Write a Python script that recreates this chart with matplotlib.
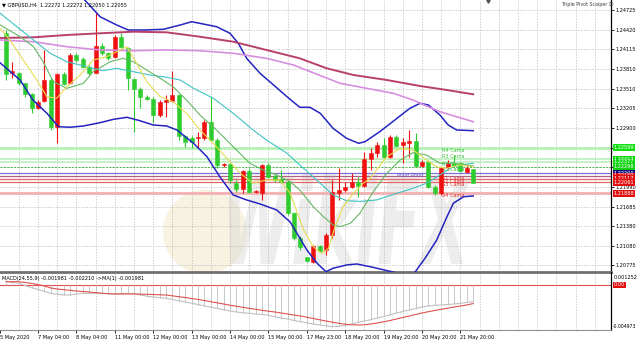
import matplotlib
matplotlib.use("Agg")
import matplotlib.pyplot as plt
import numpy as np
from matplotlib.patches import PathPatch, Circle
from matplotlib.textpath import TextPath
from matplotlib.font_manager import FontProperties
from matplotlib.transforms import Affine2D, IdentityTransform, blended_transform_factory

# GBPUSD H4 candles
opens = [1.24365, 1.23746, 1.23756, 1.23592, 1.23422, 1.23205, 1.23318, 1.23643, 1.22921, 1.23736,
         1.23592, 1.24029, 1.23963, 1.23848, 1.23756, 1.24168, 1.24065, 1.23994, 1.24312, 1.24133,
         1.23658, 1.23499, 1.23385, 1.23349, 1.23102, 1.23307, 1.23323, 1.23411, 1.22777, 1.22746,
         1.22742, 1.22742, 1.22998, 1.22715, 1.22329, 1.22344, 1.22055, 1.21953, 1.22241, 1.21916,
         1.21900, 1.22329, 1.22159, 1.22108, 1.22071, 1.21582, 1.21196, 1.20907, 1.20834, 1.21076,
         1.21015, 1.21247, 1.21900, 1.21942, 1.21984, 1.22071, 1.22009, 1.22417, 1.22519, 1.22638,
         1.22457, 1.22766, 1.22638, 1.22673, 1.22704, 1.22318, 1.22380, 1.21993, 1.21891, 1.22293,
         1.22360, 1.22364, 1.22225, 1.22272]
highs = [1.24416, 1.23926, 1.23771, 1.23601, 1.23437, 1.23334, 1.24107, 1.23669, 1.23746, 1.23771,
         1.24056, 1.24056, 1.24003, 1.23875, 1.24683, 1.24210, 1.24080, 1.24339, 1.24365, 1.24158,
         1.23669, 1.23530, 1.23411, 1.23385, 1.23334, 1.23411, 1.23787, 1.23426, 1.22793, 1.22777,
         1.22844, 1.23024, 1.23385, 1.22742, 1.22364, 1.22355, 1.22097, 1.22251, 1.22278, 1.21942,
         1.22344, 1.22355, 1.22200, 1.22251, 1.22097, 1.21602, 1.21231, 1.20907, 1.21092, 1.21092,
         1.21273, 1.22097, 1.22278, 1.22071, 1.22210, 1.22148, 1.22534, 1.22587, 1.22689, 1.22742,
         1.22793, 1.22793, 1.22742, 1.22870, 1.22819, 1.22406, 1.22406, 1.22020, 1.22302, 1.22406,
         1.22483, 1.22380, 1.22329, 1.22272]
lows = [1.23643, 1.23669, 1.23566, 1.23385, 1.23128, 1.23190, 1.23307, 1.22870, 1.22664, 1.23566,
        1.23581, 1.23926, 1.23824, 1.23720, 1.23746, 1.24029, 1.23952, 1.23978, 1.24133, 1.23488,
        1.22844, 1.23205, 1.23334, 1.22973, 1.23075, 1.23075, 1.23307, 1.22715, 1.22612, 1.22592,
        1.22587, 1.22715, 1.22689, 1.22278, 1.22302, 1.22046, 1.21916, 1.21891, 1.21891, 1.21891,
        1.21788, 1.22123, 1.22071, 1.22046, 1.21556, 1.21169, 1.21015, 1.20829, 1.20809, 1.20984,
        1.20937, 1.21196, 1.21788, 1.21916, 1.21969, 1.21839, 1.21993, 1.22251, 1.22457, 1.22432,
        1.22432, 1.22612, 1.22355, 1.22457, 1.22302, 1.22302, 1.21969, 1.21865, 1.21865, 1.22251,
        1.22278, 1.22225, 1.22200, 1.22050]
closes = [1.23736, 1.23777, 1.23592, 1.23422, 1.23205, 1.23307, 1.23643, 1.22921, 1.23736, 1.23581,
          1.24029, 1.23952, 1.23848, 1.23746, 1.24168, 1.24065, 1.23978, 1.24312, 1.24148, 1.23669,
          1.23499, 1.23385, 1.23349, 1.23102, 1.23307, 1.23334, 1.23411, 1.22777, 1.22689, 1.22689,
          1.22766, 1.22998, 1.22715, 1.22329, 1.22344, 1.22097, 1.21953, 1.22241, 1.21916, 1.21931,
          1.22329, 1.22148, 1.22097, 1.22071, 1.21582, 1.21196, 1.21056, 1.20849, 1.21076, 1.21004,
          1.21247, 1.21916, 1.21942, 1.21984, 1.22071, 1.22009, 1.22417, 1.22519, 1.22638, 1.22457,
          1.22766, 1.22627, 1.22680, 1.22704, 1.22318, 1.22380, 1.21993, 1.21891, 1.22278, 1.22364,
          1.22313, 1.22241, 1.22278, 1.22055]

# indicator lines (bar position, price)
yellow_x = [-0.9, 0.6, 2.7, 4.8, 6.4, 7.9, 9.5, 11.6, 13.6, 15.7, 17.3, 18.9, 20.4, 22.0, 24.1, 26.1,
            28.2, 30.3, 32.4, 34.5, 36.6, 38.6, 40.7, 42.8, 44.4, 46.5, 48.0, 49.3, 50.4, 51.4, 52.7,
            54.3, 55.8, 56.9, 59.5, 61.6, 63.6, 65.7, 67.3, 68.9, 70.9, 73.0]
yellow_y = [1.24442, 1.24261, 1.23952, 1.23643, 1.23385, 1.23360, 1.23539, 1.23720, 1.23952, 1.24003,
            1.24080, 1.24158, 1.23901, 1.23617, 1.23385, 1.23307, 1.23128, 1.22870, 1.22664, 1.22432,
            1.22200, 1.22046, 1.22097, 1.22097, 1.21891, 1.21324, 1.21066, 1.20963, 1.21041, 1.21375,
            1.21684, 1.21891, 1.22046, 1.22123, 1.22457, 1.22587, 1.22561, 1.22406, 1.22302, 1.22278,
            1.22329, 1.22302]
green_x = [-0.9, 2.2, 4.3, 5.8, 7.4, 9.5, 12.1, 13.6, 16.3, 18.3, 19.9, 22.0, 24.1, 26.1, 28.2, 30.3,
           32.9, 35.5, 38.1, 40.2, 42.3, 44.4, 45.9, 48.0, 49.6, 51.1, 52.2, 53.8, 55.3, 57.4, 59.5,
           61.6, 63.6, 65.7, 67.8, 69.9, 72.0, 73.0]
green_y = [1.24493, 1.24312, 1.24158, 1.23926, 1.23617, 1.23514, 1.23592, 1.23771, 1.23926, 1.23978,
           1.23926, 1.23797, 1.23669, 1.23539, 1.23334, 1.23102, 1.22870, 1.22612, 1.22355, 1.22251,
           1.22174, 1.22071, 1.21942, 1.21684, 1.21529, 1.21401, 1.21375, 1.21427, 1.21582, 1.21916,
           1.22200, 1.22406, 1.22519, 1.22483, 1.22355, 1.22355, 1.22329, 1.22313]
teal_x = [-0.9, 1.7, 4.3, 6.9, 9.5, 12.6, 15.2, 17.3, 19.9, 22.5, 25.1, 27.2, 29.3, 32.4, 35.5, 38.6,
          40.7, 43.9, 45.9, 49.1, 51.1, 53.2, 55.3, 57.9, 61.1, 63.6, 65.7, 67.8, 69.4, 70.9, 73.0]
teal_y = [1.24674, 1.24467, 1.24261, 1.24056, 1.23926, 1.23848, 1.23787, 1.23824, 1.23771, 1.23720,
          1.23685, 1.23643, 1.23515, 1.23360, 1.23128, 1.22870, 1.22715, 1.22510, 1.22329, 1.22046,
          1.21865, 1.21777, 1.21765, 1.21788, 1.21891, 1.21968, 1.22046, 1.22174, 1.22278, 1.22329,
          1.22355]
bb_up_x = [10.0, 12.3, 14.7, 17.3, 19.1, 21.5, 24.6, 27.2, 29.0, 30.8, 32.9, 35.0, 36.3, 37.6, 39.7,
           41.8, 43.9, 45.9, 47.5, 49.1, 51.1, 53.2, 55.1, 56.1, 58.4, 61.1, 63.1, 64.7, 66.0, 67.8,
           69.1, 70.4, 73.0]
bb_up_y = [1.25034, 1.24880, 1.24621, 1.24493, 1.24416, 1.24416, 1.24427, 1.24493, 1.24544, 1.24509,
           1.24467, 1.24365, 1.24210, 1.23978, 1.23746, 1.23566, 1.23385, 1.23221, 1.23221, 1.23128,
           1.22896, 1.22742, 1.22664, 1.22689, 1.22844, 1.23051, 1.23205, 1.23283, 1.23256, 1.23102,
           1.22947, 1.22870, 1.22859]
bb_low_x = [-0.9, 2.2, 4.2, 6.4, 7.3, 8.2, 10.0, 12.1, 14.7, 16.8, 18.9, 20.9, 23.0, 25.1, 26.7, 28.0,
            29.3, 31.4, 33.4, 35.5, 37.6, 39.7, 42.3, 44.4, 45.9, 47.0, 48.6, 50.0, 51.1, 53.2, 54.8,
            56.9, 61.1, 62.5, 63.9, 65.5, 67.3, 68.9, 69.9, 71.5, 73.0]
bb_low_y = [1.23906, 1.23643, 1.23334, 1.23128, 1.23024, 1.22921, 1.22912, 1.22932, 1.22983, 1.23035,
            1.23066, 1.23014, 1.22947, 1.22932, 1.22870, 1.22766, 1.22664, 1.22457, 1.22148, 1.21865,
            1.21788, 1.21726, 1.21633, 1.21447, 1.21200, 1.21015, 1.20809, 1.20679, 1.20732, 1.20783,
            1.20798, 1.20756, 1.20659, 1.20613, 1.20670, 1.20891, 1.21169, 1.21529, 1.21737, 1.21839,
            1.21850]
pink_x = [-0.9, 4.3, 9.5, 14.7, 19.9, 25.1, 30.3, 35.5, 40.7, 44.9, 49.1, 52.2, 56.4, 60.5, 63.6,
          65.7, 67.8, 70.4, 73.0]
pink_y = [1.24261, 1.24235, 1.24158, 1.24107, 1.24096, 1.24107, 1.24096, 1.24056, 1.23978, 1.23875,
          1.23712, 1.23592, 1.23514, 1.23437, 1.23334, 1.23241, 1.23153, 1.23075, 1.22998]
maroon_x = [-0.9, 4.3, 9.5, 14.7, 19.9, 25.1, 30.3, 35.5, 40.7, 45.9, 50.1, 54.3, 59.5, 64.7, 68.9, 73.0]
maroon_y = [1.24292, 1.24303, 1.24339, 1.24365, 1.24390, 1.24380, 1.24312, 1.24235, 1.24107, 1.23978,
            1.23824, 1.23720, 1.23643, 1.23550, 1.23488, 1.23422]

# Camarilla pivot levels
pivot_names = ["R4 Cama", "R3 Cama", "R2 Cama", "R1 Cama", "Pivot Point",
               "S1 Cama", "S2 Cama", "S3 Cama", "S4 Cama"]
pivot_levels = [1.22599, 1.22417, 1.22377, 1.22298, 1.22200, 1.22159, 1.22117, 1.22061, 1.21888]

# MACD(24,55,9) panel
macd_main = [0.000417, 0.000322, 0.000215, -0.000060, -0.000334, -0.000537, -0.000775, -0.000990, -0.001109, -0.001193,
             -0.001193, -0.001073, -0.000990, -0.000990, -0.000990, -0.000990, -0.001038, -0.001073, -0.001038, -0.000990,
             -0.001014, -0.001193, -0.001336, -0.001431, -0.001515, -0.001586, -0.001729, -0.001884, -0.002027, -0.002171,
             -0.002338, -0.002480, -0.002648, -0.002791, -0.002946, -0.003101, -0.003220, -0.003304, -0.003375, -0.003459,
             -0.003518, -0.003614, -0.003781, -0.003936, -0.004055, -0.004234, -0.004377, -0.004508, -0.004651, -0.004771,
             -0.004866, -0.004973, -0.004925, -0.004830, -0.004651, -0.004472, -0.004293, -0.004138, -0.003936, -0.003757,
             -0.003578, -0.003339, -0.003160, -0.002982, -0.002803, -0.002624, -0.002504, -0.002421, -0.002385, -0.002326,
             -0.002266, -0.002182, -0.002087, -0.001981]
macd_signal = [0.000394, 0.000394, 0.000394, 0.000298, 0.000179, 0.000060, -0.000119, -0.000358, -0.000477, -0.000561,
               -0.000632, -0.000716, -0.000775, -0.000835, -0.000918, -0.000990, -0.001038, -0.001073, -0.001073, -0.001073,
               -0.001073, -0.001097, -0.001109, -0.001133, -0.001169, -0.001193, -0.001288, -0.001395, -0.001491, -0.001610,
               -0.001729, -0.001849, -0.001992, -0.002123, -0.002266, -0.002409, -0.002540, -0.002659, -0.002779, -0.002898,
               -0.003017, -0.003125, -0.003220, -0.003339, -0.003459, -0.003578, -0.003697, -0.003840, -0.003995, -0.004150,
               -0.004293, -0.004437, -0.004568, -0.004675, -0.004747, -0.004771, -0.004747, -0.004651, -0.004532, -0.004389,
               -0.004234, -0.004055, -0.003876, -0.003697, -0.003518, -0.003339, -0.003184, -0.003041, -0.002898, -0.002767,
               -0.002624, -0.002504, -0.002385, -0.002210]

price_ticks = [1.24725, 1.24420, 1.24115, 1.23810, 1.23510, 1.23205, 1.22900, 1.22595, 1.22290,
               1.21990, 1.21685, 1.21380, 1.21080, 1.20775]
# 1.22595 and 1.22290 sit under the pivot price boxes, so their labels are not shown
price_labels = ["1.24725", "1.24420", "1.24115", "1.23810", "1.23510", "1.23205", "1.22900", "", "",
                "1.21990", "1.21685", "1.21380", "1.21080", "1.20775"]
date_pos = [-0.9, 5, 11, 17, 23, 29, 35, 41, 47, 53, 59, 65, 71]
date_labels = ["5 May 2020", "7 May 04:00", "8 May 04:00", "11 May 00:00", "12 May 00:00",
               "13 May 00:00", "14 May 00:00", "15 May 00:00", "17 May 23:00", "18 May 20:00",
               "19 May 20:00", "20 May 20:00", "21 May 20:00"]

FS = 3.6
UP = "#f01010"     # bullish candles are red on this chart
DOWN = "#2ecc2e"   # bearish candles are green
GRID = "#b8b8b8"


def draw_watermark(ax):
	# faint logo + "WikiFX" lettering, placed in figure pixels
	ax.add_patch(Circle((205, 340 - 232), 42, transform=IdentityTransform(),
	                    fc="#efdfb4", ec="none", alpha=0.4, zorder=0.5))
	fp = FontProperties(family="DejaVu Sans", weight="bold", style="italic")
	tp = TextPath((0, 0), "WikiFX", size=1, prop=fp)
	bb = tp.get_extents()
	tr = Affine2D().translate(-bb.x0, -bb.y0).scale(244 / bb.width, 90 / bb.height).translate(228, 340 - 264)
	ax.add_patch(PathPatch(tp, transform=tr, fc="#d8d8d8", ec="none", alpha=0.45, zorder=0.6))


def draw_candles(ax):
	o, h, l, c = map(np.array, (opens, highs, lows, closes))
	x = np.arange(len(o))
	cols = np.where(c >= o, UP, DOWN)
	ax.vlines(x, l, h, colors=cols, lw=0.8, zorder=3)
	ax.bar(x, np.abs(c - o), bottom=np.minimum(o, c), width=0.62, color=cols,
	       edgecolor=cols, lw=0.4, zorder=3)


def draw_pivots(ax):
	styles = [("#b4f0b4", 2.0, "-"), ("#c4f2c4", 1.4, "-"), ("#c4f2c4", 1.4, "-"), ("#48b848", 0.7, (0, (2, 1.5))),
	          ("#7a70d8", 0.9, "-"), ("#b06080", 0.9, "-"), ("#e06a6a", 0.9, "-"), ("#e06a6a", 0.9, "-"),
	          ("#f2b0b0", 2.0, "-")]
	box_cols = ["#10e010", "#10d810", "#10d810", "#10d010", "#101080", "#e01010", "#e01010", "#e01010", "#e01010"]
	# R3 label sits above its line so the stacked R labels stay readable
	text_va = ["top", "bottom", "top", "top", "top", "top", "top", "top", "top"]
	trans = blended_transform_factory(ax.transAxes, ax.transData)
	for name, lvl, (col, lw, ls), bcol, va in zip(pivot_names, pivot_levels, styles, box_cols, text_va):
		ax.axhline(lvl, color=col, lw=lw, ls=ls, zorder=1.5)
		tcol = "#40c040" if name.startswith("R") else ("#6050d0" if name.startswith("P") else "#e03030")
		if name.startswith("P"):
			ax.text(65.3, lvl, name, color=tcol, fontsize=FS, ha="right", va=va, zorder=2)
		else:
			ax.text(68.2, lvl, name, color=tcol, fontsize=FS, ha="left", va=va, zorder=2)
		ax.text(1.004, lvl, "%.5f" % lvl, transform=trans, fontsize=FS, color="white",
		        ha="left", va="center", clip_on=False, zorder=5,
		        bbox=dict(boxstyle="square,pad=0.15", fc=bcol, ec="none"))


def main():
	fig = plt.figure(figsize=(6.38, 3.40), dpi=100)
	ax = fig.add_axes([0, 68 / 340, 611 / 638, 272 / 340])
	ax2 = fig.add_axes([0, 10 / 340, 611 / 638, 58 / 340], sharex=ax)
	for a in (ax, ax2):
		a.set_facecolor("none")
		a.spines["left"].set_visible(False)
		a.spines["top"].set_visible(False)
		a.spines["right"].set_color("black")
		a.spines["right"].set_linewidth(0.9)
		for v in range(2, 95, 3):
			a.axvline(v, color=GRID, lw=0.5, ls=(0, (2, 2)), zorder=1)
	ax.spines["bottom"].set_color("#707070")
	ax.spines["bottom"].set_linewidth(2)
	ax2.spines["bottom"].set_color("#909090")
	ax2.spines["bottom"].set_linewidth(0.8)

	# main price panel
	for p in price_ticks:
		ax.axhline(p, color=GRID, lw=0.5, ls=(0, (2, 2)), zorder=1)
	draw_watermark(ax)
	draw_pivots(ax)
	draw_candles(ax)
	ax.plot(bb_up_x, bb_up_y, color="#2424c0", lw=1.1, zorder=4)
	ax.plot(bb_low_x, bb_low_y, color="#2424c0", lw=1.1, zorder=4)
	ax.plot(maroon_x, maroon_y, color="#b8406a", lw=1.4, zorder=4)
	ax.plot(pink_x, pink_y, color="#d88ee0", lw=1.2, zorder=4)
	ax.plot(teal_x, teal_y, color="#40c4c4", lw=0.8, zorder=4)
	ax.plot(green_x, green_y, color="#64b864", lw=0.8, zorder=4)
	ax.plot(yellow_x, yellow_y, color="#e6dc50", lw=0.8, zorder=4)
	ax.set_xlim(-0.94, 94.53)
	ax.set_ylim(1.20674, 1.24880)
	ax.yaxis.tick_right()
	ax.set_yticks(price_ticks)
	ax.set_yticklabels(price_labels)
	ax.tick_params(axis="y", length=2, width=0.6, labelsize=FS, pad=1.5)
	ax.tick_params(axis="x", bottom=False, labelbottom=False)
	ax.plot([75.3], [1.2487], marker="v", ms=2.5, color="#505050", clip_on=False, zorder=6)
	ax.text(0.92, 0.982, "Triple Pivot Scalper \u24e2", transform=ax.transAxes,
	        fontsize=3.4, color="#404040", va="center",
	        family=["DejaVu Sans", "Noto Sans CJK JP"])
	fig.text(2 / 638, 1 - 5 / 340, "\u25bc GBPUSD,H4  1.22272 1.22272 1.22050 1.22055",
	         fontsize=FS, va="center")

	# MACD panel
	x = np.arange(len(macd_main))
	ax2.axhline(0, color="#e05050", lw=0.8, zorder=2)
	ax2.vlines(x, 0, macd_main, colors="#c8c8c8", lw=0.7, zorder=2)
	ax2.plot(x, macd_main, color="#c0c0c0", lw=0.8, zorder=3)
	ax2.plot(x, macd_signal, color="#e05050", lw=0.8, zorder=3)
	ax2.set_ylim(-0.005367, 0.00155)
	ax2.set_yticks([])
	ax2.text(0.003, 0.93, "MACD(24,55,9) -0.001981 -0.002210 ->MA(1) -0.001981",
	         transform=ax2.transAxes, fontsize=FS, va="top")
	trans2 = blended_transform_factory(ax2.transAxes, ax2.transData)
	ax2.text(1.004, 0.909, "0.001252", transform=ax2.transAxes, fontsize=FS, va="center", clip_on=False)
	ax2.text(1.004, 0, "0.00", transform=trans2, fontsize=FS, va="center", color="white", clip_on=False,
	         bbox=dict(boxstyle="square,pad=0.15", fc="#e01010", ec="none"))
	ax2.text(1.003, -0.004973, "-0.004973", transform=trans2, fontsize=3.3, va="center", clip_on=False)
	ax2.set_xticks(date_pos)
	ax2.set_xticklabels(date_labels)
	for lab in ax2.get_xticklabels():
		lab.set_ha("left")
	ax2.tick_params(axis="x", length=2.5, width=0.6, labelsize=FS, pad=1)

	fig.savefig("out.png", dpi=100, facecolor="white")


if __name__ == '__main__':
	main()
